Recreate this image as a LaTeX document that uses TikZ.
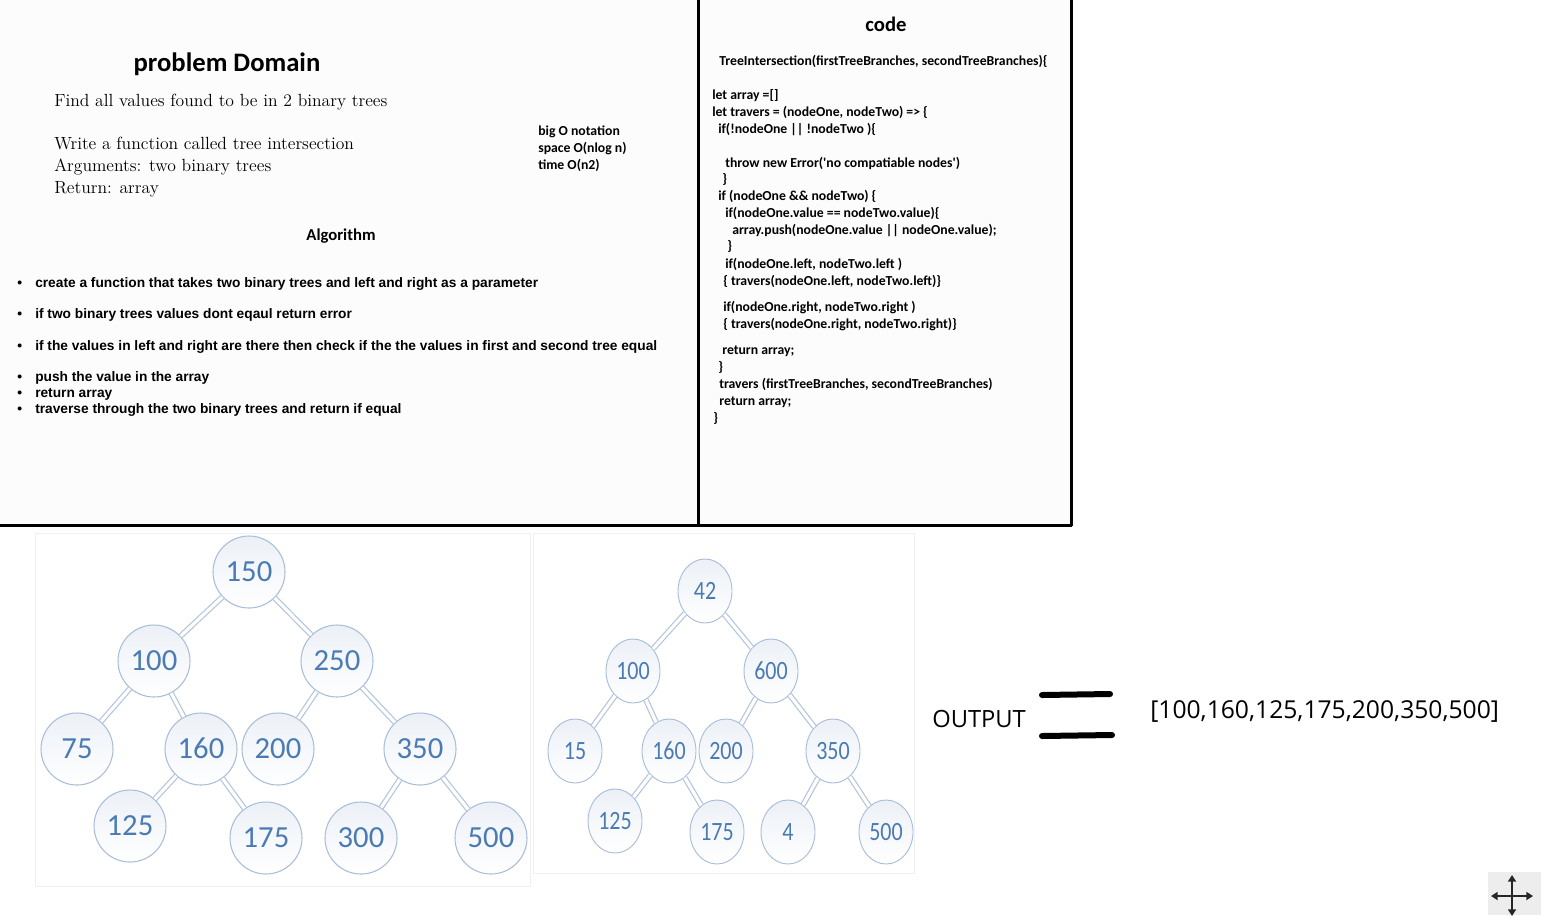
\documentclass[tikz,border=0pt]{standalone}
\usepackage{fontspec}
\newfontfamily\calibri{Carlito}
\newfontfamily\arialfont{Liberation Sans}
\newfontfamily\segoe{Open Sans}
\usepackage{tikz}
\usetikzlibrary{positioning, shapes.geometric, arrows.meta}

\definecolor{numblue}{HTML}{4A7BB4}
\definecolor{ringblue}{HTML}{A9BED9}
\definecolor{edgeblue}{HTML}{B3C5DC}
\newcommand{\tallnum}[1]{\scalebox{1}[1.2]{#1}}

\begin{document}
\begin{tikzpicture}[
        x=0.75pt, y=-0.75pt,
        every node/.style={inner sep=0pt, text height=0.72em, text depth=0.2em},
        heading/.style={font=\calibri\bfseries\fontsize{20}{22}\selectfont},
        serifline/.style={anchor=west, font=\fontsize{13.2}{15}\selectfont},
        bigo/.style={anchor=west, font=\calibri\bfseries\fontsize{10.3}{12}\selectfont},
        bulletline/.style={anchor=west, font=\arialfont\bfseries\fontsize{10.3}{12}\selectfont},
        codeline/.style={anchor=west, font=\calibri\bfseries\fontsize{10.3}{12}\selectfont},
        bignum/.style={circle, draw=ringblue, line width=0.8pt, top color=ringblue!22, bottom color=white,
            minimum size=54pt, text=numblue, text height=14.5pt, text depth=0pt,
            font=\calibri\fontsize{23}{25}\selectfont},
        smallnum/.style={ellipse, draw=ringblue, line width=0.7pt, top color=ringblue!22, bottom color=white,
            minimum width=40.5pt, minimum height=48pt, text=numblue, text height=12.5pt, text depth=0pt,
            font=\calibri\fontsize{16.5}{18}\selectfont},
        branch/.style={draw=edgeblue, line width=0.9pt, double=white, double distance=2.4pt},
        equalbar/.style={line width=4.5pt, line cap=round},
        moving/.style={black!85, line width=1.3pt, {Triangle[length=5pt, width=6pt]}-{Triangle[length=5pt, width=6pt]}},
    ]
        \useasboundingbox (0,0) rectangle (1541,915);

        % Panels
        \fill[black!1] (0,0) rectangle (1071,525);
        \draw[line width=2.25pt] (0,525) -- (1072,525);
        \draw[line width=2.25pt] (698,0) -- (698,525);
        \draw[line width=2.25pt] (1071,0) -- (1071,526);
        \draw[black!6, line width=0.75pt] (35,533) rectangle (530,886);
        \draw[black!6, line width=0.75pt] (533,533) rectangle (914,873);

        % Problem domain
        \node[heading] (domaintitle) at (227,68) {problem Domain};
        \node[serifline] (findline) at (54,103) {Find all values found to be in 2 binary trees};
        \node[serifline] (writeline) at (54,146) {Write a function called tree intersection};
        \node[serifline] (argsline) at (54,168) {Arguments: two binary trees};
        \node[serifline] (returnline) at (54,190) {Return: array};
        \node[bigo] (bigotitle) at (538,132) {big O notation};
        \node[bigo] (bigospace) at (538,149) {space O(nlog n)};
        \node[bigo] (bigotime) at (538,166) {time O(n2)};

        % Algorithm
        \node[heading, font=\calibri\bfseries\fontsize{12.5}{14}\selectfont] (algotitle) at (341,237) {Algorithm};
        \foreach \y/\txt in {
            284/create a function that takes two binary trees and left and right as a parameter,
            315/if two binary trees values dont eqaul return error,
            347/if the values in left and right  are there then check if the the values in first and second tree equal,
            378/push the value in the array,
            394/return array,
            410/traverse through the two binary trees and return if equal}
        {
            \node[bulletline] at (17,\y) {\textbullet};
            \node[bulletline] at (35,\y) {\txt};
        }

        % Code
        \node[heading, font=\calibri\bfseries\fontsize{15.5}{17}\selectfont] (codetitle) at (886,28) {code};
        \node[codeline] (c1) at (719,62) {TreeIntersection(firstTreeBranches, secondTreeBranches)\{};
        \node[codeline] (c2) at (712,96) {let array =[]};
        \node[codeline] (c3) at (712,113) {let travers = (nodeOne, nodeTwo) => \{};
        \node[codeline] (c4) at (718,130) {if(!nodeOne || !nodeTwo )\{};
        \node[codeline] (c5) at (725,164) {throw new Error(\textquotesingle no compatiable nodes\textquotesingle)};
        \node[codeline] (c6) at (722,180) {\}};
        \node[codeline] (c7) at (718,197) {if (nodeOne \&\& nodeTwo) \{};
        \node[codeline] (c8) at (725,214) {if(nodeOne.value == nodeTwo.value)\{};
        \node[codeline] (c9) at (732,231) {array.push(nodeOne.value || nodeOne.value);};
        \node[codeline] (c10) at (727,247) {\}};
        \node[codeline] (c11) at (725,265) {if(nodeOne.left, nodeTwo.left )};
        \node[codeline] (c12) at (723,282) {\{ travers(nodeOne.left, nodeTwo.left)\}};
        \node[codeline] (c13) at (723,308) {if(nodeOne.right, nodeTwo.right )};
        \node[codeline] (c14) at (723,325) {\{ travers(nodeOne.right, nodeTwo.right)\}};
        \node[codeline] (c15) at (722,351) {return array;};
        \node[codeline] (c16) at (718,368) {\}};
        \node[codeline] (c17) at (719,385) {travers (firstTreeBranches, secondTreeBranches)};
        \node[codeline] (c18) at (719,402) {return array;};
        \node[codeline] (c19) at (713,419) {\}};

        % First tree
        \node[bignum] (first150) at (249,572) {150};
        \node[bignum] (first100) at (154,661) {100};
        \node[bignum] (first250) at (337,661) {250};
        \node[bignum] (first75) at (77,749) {75};
        \node[bignum] (first160) at (201,749) {160};
        \node[bignum] (first200) at (278,749) {200};
        \node[bignum] (first350) at (420,749) {350};
        \node[bignum] (first125) at (130,826) {125};
        \node[bignum] (first175) at (266,838) {175};
        \node[bignum] (first300) at (361,838) {300};
        \node[bignum] (first500) at (491,838) {500};
        \foreach \a/\b in {150/100, 150/250, 100/75, 100/160, 250/200, 250/350, 160/125, 160/175, 350/300, 350/500}
            \draw[branch] (first\a) -- (first\b);

        % Second tree
        \node[smallnum] (second42) at (705,591) {\tallnum{42}};
        \node[smallnum] (second100) at (633,671) {\tallnum{100}};
        \node[smallnum] (second600) at (771,671) {\tallnum{600}};
        \node[smallnum] (second15) at (575,751) {\tallnum{15}};
        \node[smallnum] (second160) at (669,751) {\tallnum{160}};
        \node[smallnum] (second200) at (726,751) {\tallnum{200}};
        \node[smallnum] (second350) at (833,751) {\tallnum{350}};
        \node[smallnum] (second125) at (615,821) {\tallnum{125}};
        \node[smallnum] (second175) at (717,832) {\tallnum{175}};
        \node[smallnum] (second4) at (788,832) {\tallnum{4}};
        \node[smallnum] (second500) at (886,832) {\tallnum{500}};
        \foreach \a/\b in {42/100, 42/600, 100/15, 100/160, 600/200, 600/350, 160/125, 160/175, 350/4, 350/500}
            \draw[branch] (second\a) -- (second\b);

        % Output
        \node[anchor=west, font=\segoe\fontsize{17.8}{20}\selectfont] (outlabel) at (932,724) {OUTPUT};
        \coordinate (eqtopleft) at (1042,695);
        \coordinate (eqtopright) at (1110,694);
        \coordinate (eqbotleft) at (1042,736);
        \coordinate (eqbotright) at (1112,735);
        \draw[equalbar] (eqtopleft) -- (eqtopright);
        \draw[equalbar] (eqbotleft) -- (eqbotright);
        \node[anchor=west, font=\segoe\fontsize{18.5}{20}\selectfont] (outarray) at (1150,715) {[100,160,125,175,200,350,500]};

        % Move handle
        \fill[black!7] (1488,872) rectangle (1541,915);
        \coordinate (mvleft) at (1491,896);
        \coordinate (mvright) at (1533,896);
        \coordinate (mvtop) at (1512,875);
        \coordinate (mvbottom) at (1512,916);
        \draw[moving] (mvleft) -- (mvright);
        \draw[moving] (mvtop) -- (mvbottom);

    \end{tikzpicture}
\end{document}
